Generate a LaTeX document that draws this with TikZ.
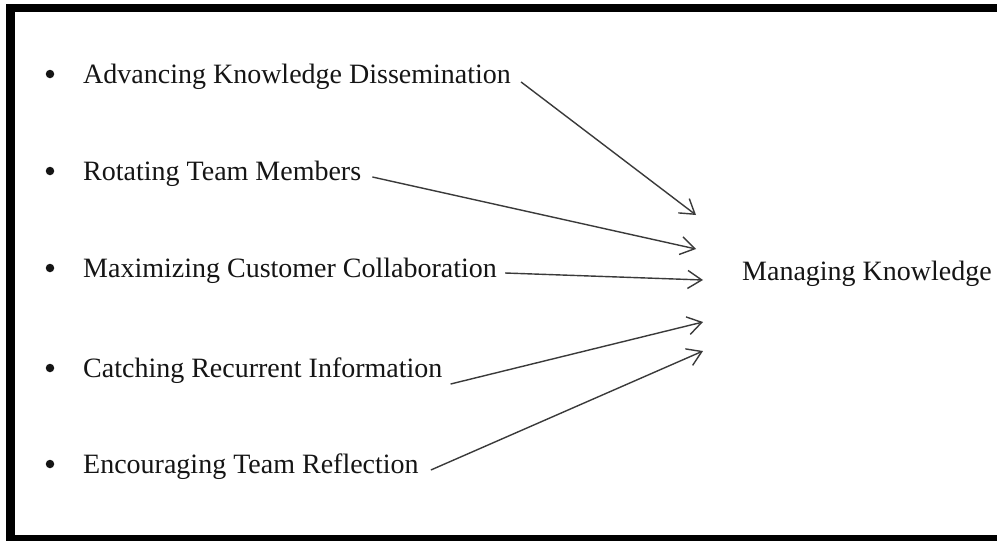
\documentclass[tikz,border=0pt]{standalone}
\usepackage{fontspec}
\setmainfont{Liberation Serif}
\usetikzlibrary{arrows.meta,calc}
\definecolor{inkdark}{HTML}{151515}
\definecolor{linegray}{HTML}{3A3A3A}
\begin{document}
\begin{tikzpicture}[x=1pt,y=-1pt,
  item/.style={anchor=base west,inner sep=0pt,text=inkdark,font=\fontsize{28}{34}\selectfont},
  dot/.style={circle,fill=inkdark,inner sep=0pt,minimum size=8.5pt},
  link/.style={draw=linegray,line width=1.4pt,-{Straight Barb[length=14pt,width=18pt,line width=1.4pt]}}]
  % page area and frame
  \clip (0,0) rectangle (997,541);
  \fill[white] (0,0) rectangle (997,541);
  \draw[line width=8.5pt] (10.5,8) rectangle (1010,539.5);

  % bulleted factors
  \foreach \i/\y/\t in {1/83/Advancing Knowledge Dissemination,
                        2/180/Rotating Team Members,
                        3/277/Maximizing Customer Collaboration,
                        4/377/Catching Recurrent Information,
                        5/473/Encouraging Team Reflection}{
    \node[dot] (b\i) at (50,\y-9) {};
    \node[item] (a\i) at (83,\y) {\t};
  }

  % outcome
  \node[item] (mk) at (742,280) {Managing Knowledge};

  % start points just past each label
  \coordinate (s1) at ($(a1.base east)+(10,-1)$);
  \coordinate (s2) at ($(a2.base east)+(11,-3)$);
  \coordinate (s3) at ($(a3.base east)+(8,-4)$);
  \coordinate (s4) at ($(a4.base east)+(8,7)$);
  \coordinate (s5) at ($(a5.base east)+(12,-3)$);

  % arrow tips in front of the outcome
  \coordinate (t1) at (696,215);
  \coordinate (t2) at (696,249);
  \coordinate (t3) at (703,280);
  \coordinate (t4) at (703,322);
  \coordinate (t5) at (703,351);

  \foreach \i in {1,...,5}{
    \draw[link] (s\i) -- (t\i);
  }
\end{tikzpicture}
\end{document}
